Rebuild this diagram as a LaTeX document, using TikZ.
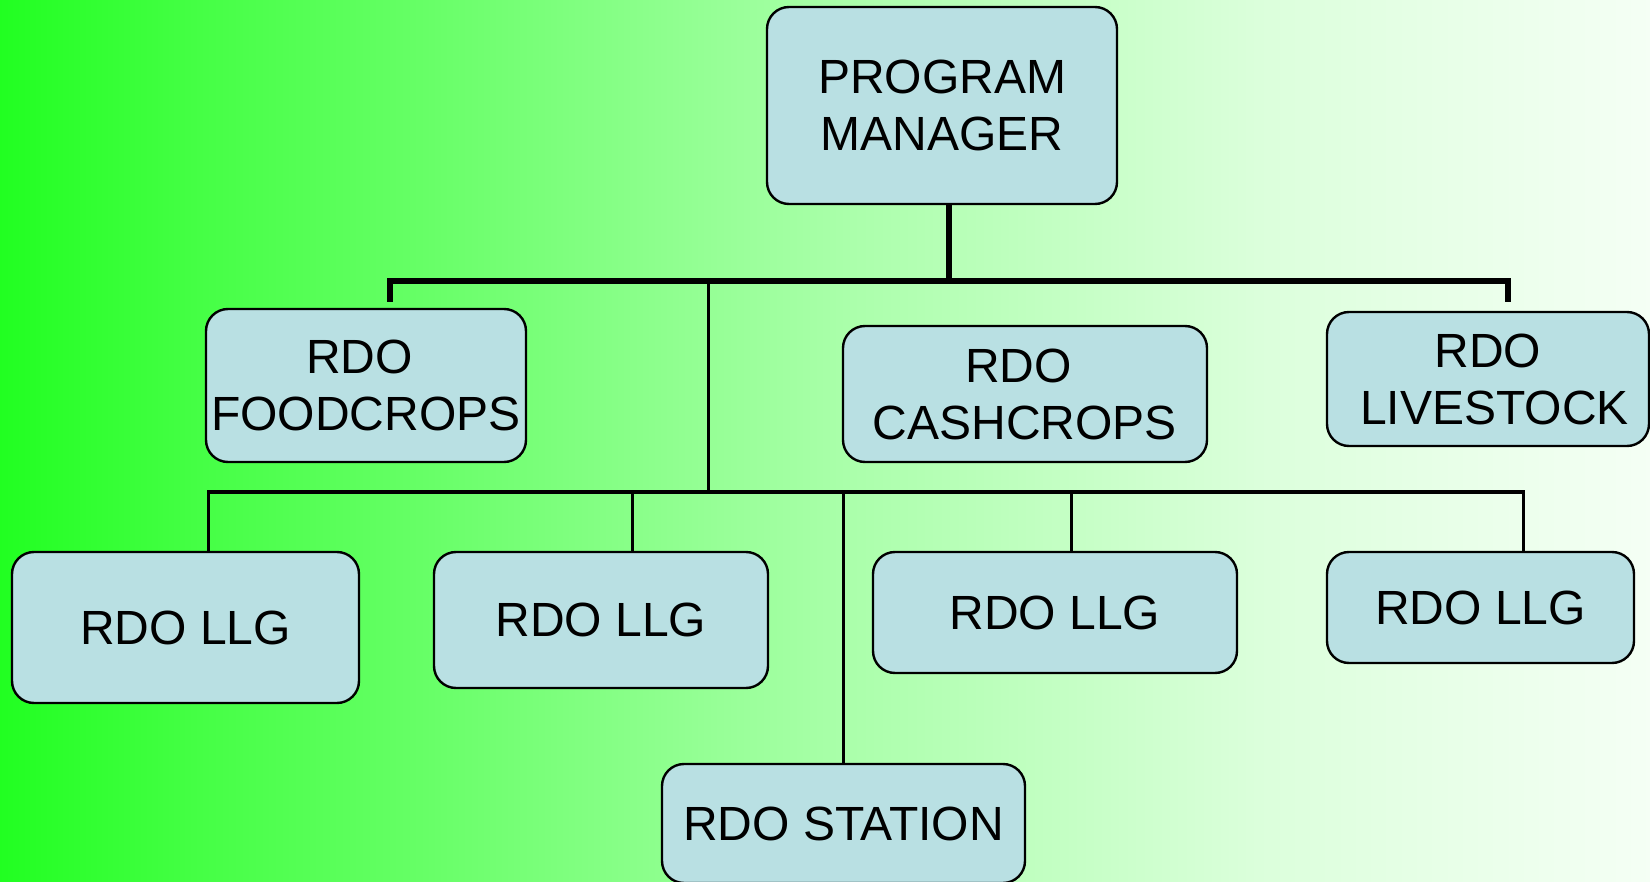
\documentclass[tikz,border=0pt]{standalone}
\usepackage{fontspec}
\setmainfont{Liberation Sans}
\usetikzlibrary{positioning,calc}
\definecolor{boxfill}{RGB}{185,224,227}
\pgfdeclarehorizontalshading{meadow}{100bp}{rgb(0bp)=(0.13,1,0.13); rgb(25bp)=(0.13,1,0.13); rgb(31bp)=(0.27,1,0.27); rgb(37.7bp)=(0.40,1,0.40); rgb(46.2bp)=(0.58,1,0.58); rgb(50.8bp)=(0.67,1,0.67); rgb(63.2bp)=(0.86,1,0.86); rgb(75bp)=(0.96,1,0.96); rgb(100bp)=(0.96,1,0.96)}

\begin{document}
\begin{tikzpicture}[x=1pt, y=-1pt,
    orgbox/.style={draw=black, line width=2.4pt, fill=boxfill, rounded corners=22pt,
      inner sep=0pt, align=center, font=\fontsize{48}{57}\selectfont},
    bus/.style={line width=5.5pt},
    link/.style={line width=3pt}]

  % background
  \useasboundingbox (0,0) rectangle (1650,882);
  \shade[shading=meadow] (0,0) rectangle (1650,882);

  % boxes
  \node[orgbox, minimum width=350pt, minimum height=197pt] (pm) at (942,105.5) {PROGRAM\\MANAGER};

  \node[orgbox, minimum width=320pt, minimum height=153pt] (food) at (366,385.5) {RDO\hspace*{13pt}\\FOODCROPS};
  \node[orgbox, minimum width=364pt, minimum height=136pt] (cash) at (1025,394) {RDO\hspace*{13pt}\\CASHCROPS};
  \node[orgbox, minimum width=322pt, minimum height=134pt] (live) at (1488,379) {RDO\\\hspace*{13pt}LIVESTOCK};

  \node[orgbox, minimum width=347pt, minimum height=151pt] (llga) at (185.5,627.5) {RDO LLG};
  \node[orgbox, minimum width=334pt, minimum height=136pt] (llgb) at (601,620) {RDO LLG};
  \node[orgbox, minimum width=364pt, minimum height=121pt] (llgc) at (1055,612.5) {RDO LLG};
  \node[orgbox, minimum width=307pt, minimum height=111pt] (llgd) at (1480.5,607.5) {RDO LLG};

  \node[orgbox, minimum width=363pt, minimum height=119pt] (station) at (843.5,823.5) {RDO STATION};

  % junctions
  \coordinate (upbus) at (0,281);
  \coordinate (lowbus) at (0,492);
  \coordinate (ps) at ([xshift=7pt]pm.south);
  \coordinate (fs) at ([xshift=24pt, yshift=6pt]food.north);
  \coordinate (ls) at ([xshift=20pt, yshift=9pt]live.north);
  \coordinate (mid) at (708,281);
  \coordinate (da) at ([xshift=22.5pt]llga.north);
  \coordinate (db) at ([xshift=31pt]llgb.north);
  \coordinate (dc) at ([xshift=16pt]llgc.north);
  \coordinate (dd) at ([xshift=42.5pt]llgd.north);

  % thick lines
  \draw[bus] (ps) -- (ps |- upbus);
  \draw[bus] (fs) |- (ls |- upbus) -- (ls);

  % thin lines
  \draw[link] (mid) -- (mid |- lowbus);
  \draw[link] (da) |- (dd |- lowbus) -- (dd);
  \foreach \d in {db, dc, station.north}
    \draw[link] (\d) -- (\d |- lowbus);
\end{tikzpicture}
\end{document}
